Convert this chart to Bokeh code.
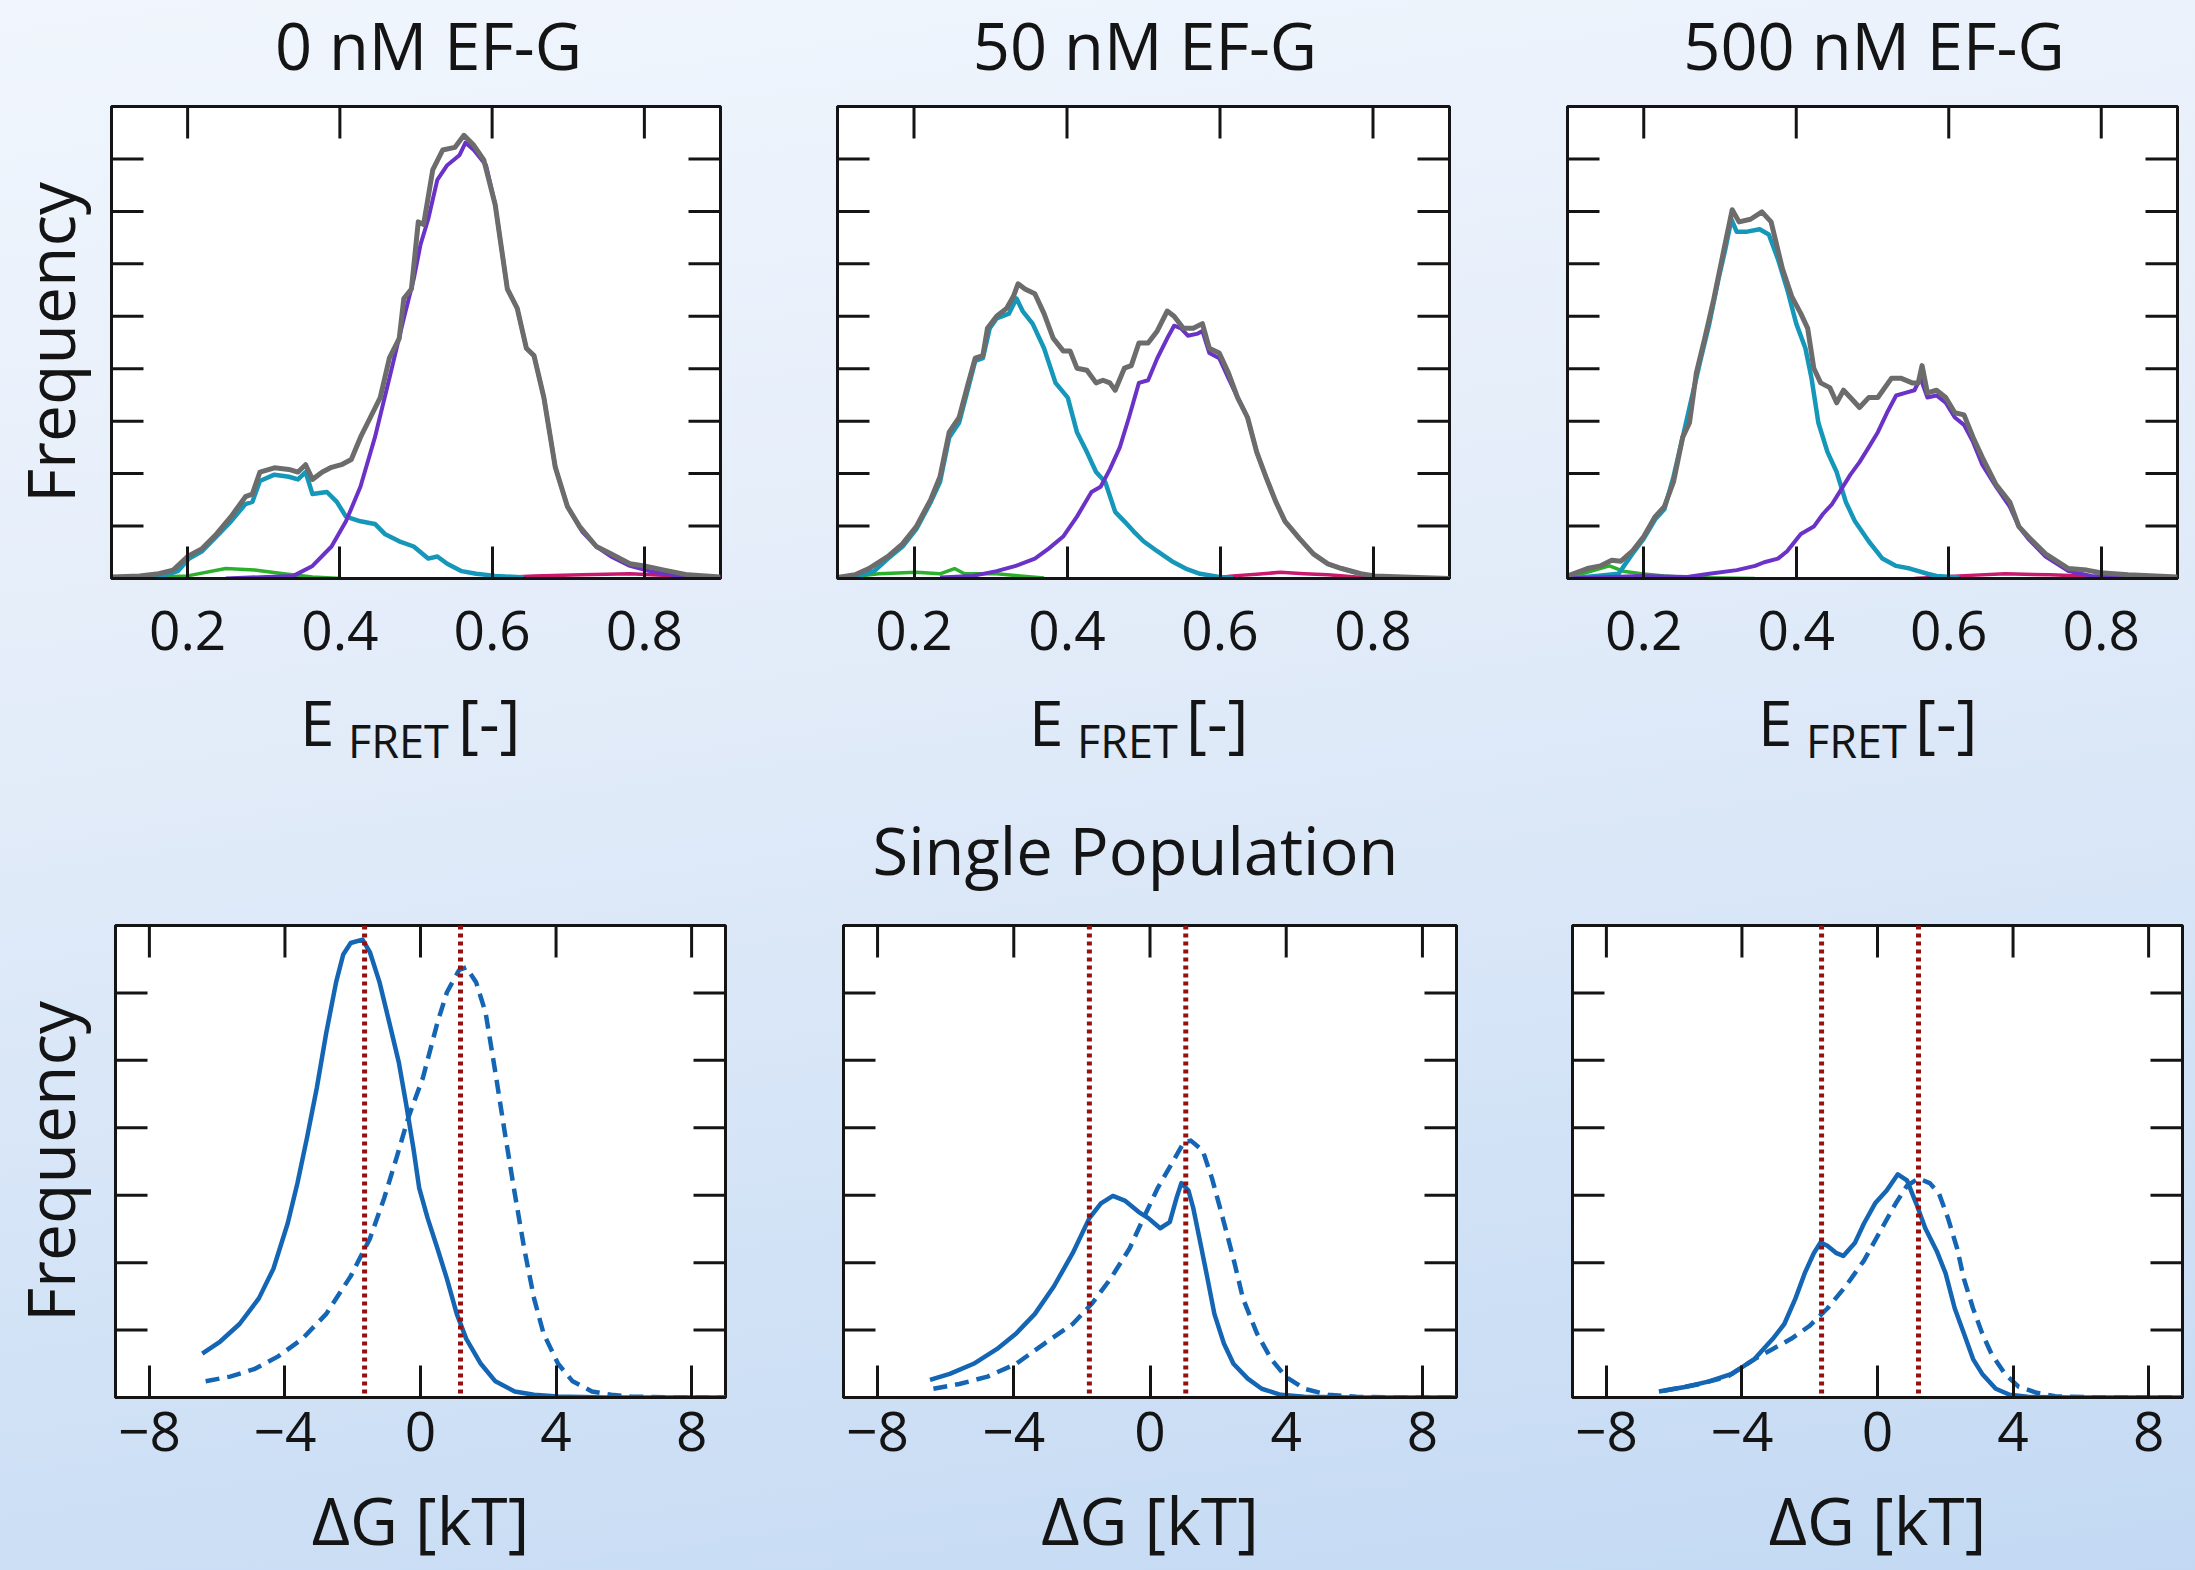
import math
from bokeh.plotting import figure
from bokeh.models import Range1d, FixedTicker, Span, Div, CustomJSTickFormatter
from bokeh.layouts import row, column
from bokeh.embed import file_html
from bokeh.resources import INLINE

FONT = "Open Sans"
INK = "#141414"
C_TOTAL = "#6c6c6c"
C_LOW = "#1597ba"
C_HIGH = "#6a32c6"
C_GREEN = "#2bb02b"
C_MAG = "#c8196e"
C_DG = "#1466b4"
C_MARK = "#951010"

TITLES_TOP = ["0 nM EF-G", "50 nM EF-G", "500 nM EF-G"]
TITLE_BOTTOM = "Single Population"
E_TICKS = [0.2, 0.4, 0.6, 0.8]
DG_TICKS = [-8, -4, 0, 4, 8]
E_YTICKS = [1, 2, 3, 4, 5, 6, 7, 8]
DG_YTICKS = [1, 2, 3, 4, 5, 6]

# ---------------- E_FRET histograms (arbitrary frequency units, 0..9) -------------
E0_TOTAL_X = [0.100,0.137,0.162,0.181,0.200,0.219,0.238,0.257,0.276,0.285,0.295,0.314,0.333,0.345,0.355,0.364,0.377,0.389,0.402,0.415,0.427,0.440,0.453,0.465,0.478,0.484,0.494,0.503,0.510,0.522,0.535,0.551,0.563,0.576,0.589,0.604,0.620,0.633,0.645,0.655,0.668,0.683,0.699,0.715,0.737,0.756,0.781,0.800,0.826,0.857,0.900]
E0_TOTAL_Y = [0.03,0.05,0.09,0.16,0.42,0.57,0.85,1.18,1.56,1.61,2.03,2.11,2.08,2.03,2.17,1.89,2.03,2.12,2.17,2.27,2.69,3.07,3.45,4.20,4.58,5.34,5.52,6.80,6.75,7.79,8.17,8.22,8.45,8.26,7.98,7.13,5.52,5.15,4.39,4.25,3.45,2.12,1.37,0.99,0.61,0.47,0.28,0.24,0.16,0.07,0.03]
E0_LOW_X = [0.130,0.168,0.187,0.202,0.219,0.238,0.257,0.276,0.285,0.295,0.314,0.333,0.345,0.355,0.364,0.383,0.396,0.408,0.427,0.446,0.459,0.478,0.497,0.516,0.528,0.541,0.560,0.579,0.604,0.642]
E0_LOW_Y = [0.0,0.05,0.14,0.38,0.52,0.80,1.09,1.42,1.46,1.86,1.98,1.94,1.89,2.03,1.61,1.65,1.46,1.18,1.09,1.04,0.85,0.71,0.61,0.38,0.42,0.28,0.14,0.09,0.05,0.02]
E0_HIGH_X = [0.250,0.339,0.364,0.389,0.408,0.427,0.446,0.465,0.484,0.497,0.506,0.516,0.528,0.541,0.557,0.565,0.576,0.592,0.604,0.620,0.633,0.645,0.655,0.668,0.683,0.699,0.718,0.737,0.756,0.781,0.807,0.845,0.900]
E0_HIGH_Y = [0.0,0.05,0.24,0.61,1.09,1.75,2.69,3.82,4.96,5.71,6.37,6.85,7.60,7.88,8.07,8.31,8.17,7.88,7.13,5.52,5.15,4.39,4.25,3.45,2.12,1.37,0.90,0.61,0.42,0.24,0.14,0.05,0.02]
E0_GREEN_X = [0.10,0.20,0.25,0.288,0.326,0.364,0.402]
E0_GREEN_Y = [0.0,0.05,0.19,0.16,0.09,0.03,0.0]
E0_MAG_X = [0.592,0.655,0.718,0.781,0.845,0.900]
E0_MAG_Y = [0.0,0.05,0.07,0.09,0.05,0.02]

E50_TOTAL_X = [0.100,0.123,0.141,0.166,0.185,0.203,0.222,0.234,0.246,0.259,0.271,0.280,0.290,0.296,0.308,0.321,0.330,0.336,0.345,0.358,0.370,0.382,0.395,0.404,0.413,0.426,0.438,0.447,0.456,0.463,0.475,0.484,0.494,0.506,0.518,0.531,0.540,0.552,0.565,0.577,0.586,0.599,0.611,0.623,0.636,0.648,0.660,0.673,0.685,0.704,0.722,0.741,0.759,0.784,0.802,0.840,0.900]
E50_TOTAL_Y = [0.02,0.07,0.19,0.42,0.66,0.99,1.51,1.94,2.79,3.07,3.73,4.20,4.25,4.77,5.00,5.15,5.38,5.62,5.52,5.43,5.05,4.58,4.34,4.34,4.01,3.97,3.73,3.78,3.73,3.59,4.01,4.06,4.49,4.49,4.72,5.10,5.00,4.77,4.77,4.86,4.39,4.30,3.92,3.45,3.07,2.41,1.94,1.46,1.09,0.76,0.47,0.28,0.19,0.09,0.05,0.03,0.0]
E50_LOW_X = [0.100,0.123,0.148,0.166,0.185,0.203,0.222,0.234,0.246,0.259,0.271,0.280,0.290,0.299,0.308,0.324,0.334,0.342,0.355,0.370,0.385,0.401,0.413,0.426,0.438,0.450,0.463,0.475,0.487,0.500,0.518,0.537,0.555,0.574,0.599,0.617]
E50_LOW_Y = [0.0,0.03,0.14,0.38,0.61,0.94,1.46,1.84,2.69,2.97,3.64,4.15,4.20,4.77,4.96,5.05,5.34,5.10,4.86,4.39,3.73,3.45,2.79,2.41,2.03,1.84,1.27,1.09,0.90,0.71,0.52,0.33,0.19,0.09,0.03,0.01]
E50_HIGH_X = [0.234,0.277,0.308,0.333,0.358,0.376,0.395,0.413,0.432,0.444,0.456,0.469,0.481,0.494,0.506,0.518,0.531,0.540,0.549,0.558,0.571,0.577,0.586,0.599,0.611,0.623,0.636,0.648,0.660,0.673,0.685,0.704,0.722,0.741,0.759,0.784,0.802,0.840,0.900]
E50_HIGH_Y = [0.02,0.05,0.14,0.24,0.38,0.57,0.80,1.18,1.65,1.75,2.08,2.50,3.07,3.73,3.78,4.20,4.58,4.82,4.77,4.63,4.67,4.72,4.30,4.20,3.82,3.45,3.07,2.41,1.94,1.46,1.09,0.76,0.47,0.28,0.19,0.09,0.03,0.01,0.0]
E50_GREEN_X = [0.100,0.154,0.203,0.234,0.253,0.266,0.308,0.339,0.370]
E50_GREEN_Y = [0.0,0.09,0.12,0.09,0.19,0.09,0.09,0.05,0.01]
E50_MAG_X = [0.586,0.617,0.648,0.679,0.710,0.741,0.778,0.802]
E50_MAG_Y = [0.0,0.05,0.08,0.12,0.09,0.07,0.03,0.0]

E500_TOTAL_X = [0.100,0.126,0.143,0.158,0.170,0.185,0.200,0.215,0.227,0.239,0.251,0.260,0.269,0.280,0.292,0.304,0.316,0.325,0.340,0.355,0.367,0.382,0.394,0.406,0.415,0.423,0.432,0.444,0.453,0.462,0.471,0.483,0.495,0.507,0.525,0.537,0.552,0.560,0.565,0.572,0.584,0.596,0.608,0.620,0.632,0.644,0.662,0.680,0.692,0.704,0.727,0.757,0.781,0.799,0.835,0.900]
E500_TOTAL_Y = [0.05,0.19,0.24,0.35,0.33,0.52,0.80,1.18,1.37,1.84,2.69,2.97,3.92,4.58,5.34,6.19,7.03,6.80,6.85,6.99,6.80,5.90,5.38,5.05,4.77,4.01,3.73,3.64,3.35,3.59,3.45,3.26,3.45,3.45,3.82,3.82,3.73,3.73,4.06,3.54,3.59,3.45,3.16,3.12,2.69,2.31,1.79,1.46,0.99,0.80,0.47,0.19,0.16,0.11,0.07,0.03]
E500_LOW_X = [0.100,0.138,0.167,0.185,0.200,0.215,0.227,0.239,0.251,0.263,0.275,0.286,0.298,0.307,0.315,0.322,0.334,0.352,0.364,0.376,0.388,0.400,0.412,0.420,0.429,0.441,0.453,0.465,0.477,0.495,0.513,0.531,0.549,0.572,0.584,0.614]
E500_LOW_Y = [0.0,0.05,0.09,0.47,0.76,1.13,1.32,1.94,2.69,3.45,4.20,4.86,5.71,6.28,6.85,6.61,6.61,6.66,6.56,6.09,5.52,4.86,4.39,3.82,2.97,2.41,2.03,1.46,1.09,0.71,0.38,0.24,0.19,0.09,0.05,0.02]
E500_HIGH_X = [0.100,0.197,0.257,0.286,0.322,0.346,0.358,0.376,0.388,0.406,0.423,0.435,0.447,0.459,0.471,0.483,0.495,0.507,0.519,0.531,0.543,0.555,0.563,0.572,0.584,0.596,0.608,0.620,0.632,0.644,0.662,0.680,0.692,0.704,0.727,0.757,0.787,0.823,0.900]
E500_HIGH_Y = [0.0,0.05,0.03,0.09,0.16,0.24,0.31,0.38,0.52,0.85,0.99,1.23,1.42,1.70,1.98,2.22,2.50,2.79,3.16,3.49,3.54,3.59,3.82,3.45,3.49,3.35,3.07,2.93,2.60,2.17,1.75,1.37,0.99,0.76,0.42,0.14,0.05,0.02,0.0]
E500_GREEN_X = [0.100,0.126,0.155,0.173,0.197,0.227,0.257,0.346]
E500_GREEN_Y = [0.02,0.12,0.24,0.14,0.09,0.05,0.02,0.0]
E500_MAG_X = [0.555,0.614,0.674,0.733,0.775,0.823]
E500_MAG_Y = [0.0,0.05,0.09,0.07,0.05,0.0]

# ---------------- Delta G distributions (arbitrary frequency units, 0..7) ----------
DG0_SOLID_X = [-6.44,-5.91,-5.34,-4.77,-4.34,-3.92,-3.63,-3.35,-3.06,-2.78,-2.49,-2.28,-2.06,-1.71,-1.49,-1.21,-0.92,-0.64,-0.43,-0.21,-0.04,0.21,0.50,0.78,1.07,1.35,1.78,2.21,2.78,3.35,4.06,5.48,9.0]
DG0_SOLID_Y = [0.65,0.83,1.09,1.47,1.91,2.58,3.18,3.85,4.59,5.41,6.16,6.57,6.74,6.79,6.60,6.16,5.56,4.97,4.37,3.70,3.11,2.66,2.21,1.76,1.24,0.87,0.50,0.24,0.09,0.04,0.015,0.0,0.0]
DG0_DASH_X = [-6.34,-5.62,-4.91,-4.20,-3.49,-2.78,-2.06,-1.49,-1.07,-0.71,-0.36,0.07,0.50,0.78,1.14,1.35,1.64,1.92,2.21,2.49,2.78,3.06,3.35,3.63,4.06,4.49,5.06,5.63,6.20,7.62,9.0]
DG0_DASH_Y = [0.24,0.31,0.42,0.61,0.87,1.24,1.80,2.36,2.96,3.55,4.15,4.74,5.56,6.01,6.34,6.38,6.16,5.71,4.82,3.92,3.03,2.21,1.47,0.95,0.50,0.24,0.09,0.04,0.015,0.0,0.0]
DG50_SOLID_X = [-6.46,-5.88,-5.18,-4.49,-3.93,-3.38,-2.82,-2.27,-1.78,-1.44,-1.09,-0.74,-0.33,-0.05,0.30,0.58,0.78,0.92,1.13,1.27,1.48,1.69,1.89,2.17,2.45,2.87,3.28,3.84,4.53,5.92,9.0]
DG50_SOLID_Y = [0.26,0.35,0.50,0.72,0.95,1.24,1.65,2.14,2.66,2.88,2.99,2.92,2.75,2.66,2.51,2.60,2.96,3.18,3.07,2.81,2.29,1.76,1.24,0.80,0.50,0.28,0.13,0.04,0.01,0.0,0.0]
DG50_DASH_X = [-6.36,-5.60,-4.77,-3.93,-3.10,-2.27,-1.71,-1.16,-0.60,-0.19,0.23,0.65,0.99,1.20,1.55,1.82,2.10,2.45,2.73,3.14,3.56,3.98,4.53,5.23,6.06,7.31,9.0]
DG50_DASH_Y = [0.13,0.20,0.31,0.50,0.80,1.09,1.39,1.76,2.21,2.66,3.11,3.48,3.78,3.81,3.66,3.25,2.73,2.06,1.47,0.95,0.57,0.31,0.13,0.04,0.01,0.0,0.0]
DG500_SOLID_X = [-6.45,-5.64,-4.97,-4.30,-3.63,-3.09,-2.75,-2.42,-2.15,-1.88,-1.68,-1.48,-1.21,-1.01,-0.67,-0.40,-0.07,0.27,0.60,0.87,1.14,1.41,1.75,2.01,2.28,2.55,2.82,3.09,3.49,3.90,4.43,5.78,9.0]
DG500_SOLID_Y = [0.09,0.16,0.24,0.35,0.57,0.87,1.09,1.47,1.84,2.14,2.30,2.25,2.14,2.10,2.29,2.58,2.88,3.07,3.31,3.22,2.88,2.51,2.17,1.84,1.32,0.95,0.57,0.35,0.13,0.04,0.01,0.0,0.0]
DG500_DASH_X = [-6.31,-5.24,-4.43,-3.96,-3.63,-3.09,-2.55,-2.01,-1.48,-0.94,-0.40,0.13,0.54,0.87,1.21,1.54,1.81,2.08,2.35,2.55,2.82,3.09,3.36,3.76,4.16,4.70,5.24,6.45,9.0]
DG500_DASH_Y = [0.10,0.20,0.31,0.46,0.57,0.72,0.87,1.06,1.32,1.65,2.03,2.51,2.88,3.14,3.25,3.18,3.03,2.66,2.21,1.76,1.32,0.95,0.65,0.35,0.16,0.07,0.02,0.0,0.0]

DG0_MARKS = [-1.65, 1.18]
DG50_MARKS = [-1.78, 1.05]
DG500_MARKS = [-1.65, 1.21]

E_RANGE = (0.1, 0.9)
E_YRANGE = (0, 9)
DG_RANGE = (-9, 9)
DG_YRANGE = (0, 7)

FRAME_H = 472
TXT = f"position:absolute;white-space:nowrap;line-height:1;font-family:'Open Sans';color:{INK};"


def style_axis(ax, ticks, formatter=None, standoff=14):
    ax.ticker = FixedTicker(ticks=ticks, minor_ticks=[])
    if formatter is not None:
        ax.formatter = formatter
    ax.major_tick_in = 32
    ax.major_tick_out = 0
    ax.minor_tick_in = 0
    ax.minor_tick_out = 0
    ax.major_tick_line_width = 3
    ax.major_tick_line_color = INK
    ax.axis_line_width = 3
    ax.axis_line_color = INK
    ax.major_label_text_font = FONT
    ax.major_label_text_color = INK
    ax.major_label_text_font_size = "55px"
    ax.major_label_standoff = standoff
    ax.axis_label_text_font = FONT
    ax.axis_label_text_font_size = "66px"
    ax.axis_label_text_font_style = "normal"
    ax.axis_label_text_color = INK


def make_panel(width, height, bl, br, bt, bb, xr, yr, xticks, yticks, ylabel, ylabel_standoff, xlabel,
               tick_standoff, xlabel_standoff, xfmt=None):
    p = figure(width=width, height=height, x_range=Range1d(*xr), y_range=Range1d(*yr),
               output_backend="svg", toolbar_location=None, title=None,
               min_border_left=bl, min_border_right=br, min_border_top=bt, min_border_bottom=bb,
               border_fill_color=None, background_fill_color="white",
               outline_line_color=INK, outline_line_width=3)
    p.xgrid.visible = False
    p.ygrid.visible = False
    bx = p.below[0]
    ly = p.left[0]
    style_axis(bx, xticks, xfmt, tick_standoff)
    style_axis(ly, [], None, 0)
    if ylabel:
        ly.axis_label = ylabel
        ly.axis_label_standoff = ylabel_standoff
    if xlabel:
        bx.axis_label = xlabel
        bx.axis_label_standoff = xlabel_standoff
    # inward ticks on the left, right and top edges (half of each dash is clipped by the frame)
    n_y = len(yticks)
    n_x = len(xticks)
    tick_kw = dict(marker="dash", size=64, line_color=INK, line_width=3)
    p.scatter([xr[0]] * n_y, yticks, **tick_kw)
    p.scatter([xr[1]] * n_y, yticks, **tick_kw)
    p.scatter(xticks, [yr[1]] * n_x, angle=math.pi / 2, **tick_kw)
    return p


def title_div(text, fig_w, frame_left, frame_w, h, top, shift):
    html = (f'<div style="position:relative;width:{fig_w}px;height:{h}px;">'
            f'<div style="{TXT}left:{frame_left + shift}px;width:{frame_w}px;top:{top}px;'
            f'text-align:center;font-size:65px;">{text}</div></div>')
    return Div(text=html, width=fig_w, height=h, margin=0)


def fret_div(fig_w, frame_left, frame_w, h):
    cx = frame_left + frame_w / 2
    html = (f'<div style="position:relative;width:{fig_w}px;height:{h}px;">'
            f'<span style="{TXT}left:{cx - 114:.0f}px;top:1px;font-size:62px;">E</span> '
            f'<span style="{TXT}left:{cx - 66:.0f}px;top:28px;font-size:45px;">FRET</span> '
            f'<span style="{TXT}left:{cx + 43:.0f}px;top:0px;font-size:64px;">[-]</span>'
            '</div>')
    return Div(text=html, width=fig_w, height=h, margin=0)


top_sets = [
    (E0_TOTAL_X, E0_TOTAL_Y, E0_LOW_X, E0_LOW_Y, E0_HIGH_X, E0_HIGH_Y, E0_GREEN_X, E0_GREEN_Y, E0_MAG_X, E0_MAG_Y),
    (E50_TOTAL_X, E50_TOTAL_Y, E50_LOW_X, E50_LOW_Y, E50_HIGH_X, E50_HIGH_Y, E50_GREEN_X, E50_GREEN_Y, E50_MAG_X, E50_MAG_Y),
    (E500_TOTAL_X, E500_TOTAL_Y, E500_LOW_X, E500_LOW_Y, E500_HIGH_X, E500_HIGH_Y, E500_GREEN_X, E500_GREEN_Y, E500_MAG_X, E500_MAG_Y),
]
# (figure width, left border, right border, title shift)
top_geom = [(778, 109, 58, 14), (730, 59, 59, 2), (687, 59, 18, 2)]
TOP_TITLE_H = 100
TOP_FIG_H = 590
TOP_DIV_H = 110

top_cols = []
for i, (geo, data) in enumerate(zip(top_geom, top_sets)):
    w, bl, br, shift = geo
    fw = w - bl - br
    p = make_panel(w, TOP_FIG_H, bl, br, 106 - TOP_TITLE_H, TOP_FIG_H - (106 - TOP_TITLE_H) - FRAME_H,
                   E_RANGE, E_YRANGE, E_TICKS, E_YTICKS,
                   "Frequency" if i == 0 else None, 18, None, 32, 0)
    tx, ty, lx, lyv, hx, hy, gx, gy, mx, my = data
    p.line(gx, gy, line_color=C_GREEN, line_width=3.5, line_join="round")
    p.line(mx, my, line_color=C_MAG, line_width=3.5, line_join="round")
    p.line(lx, lyv, line_color=C_LOW, line_width=4.5, line_join="round")
    p.line(hx, hy, line_color=C_HIGH, line_width=4, line_join="round")
    p.line(tx, ty, line_color=C_TOTAL, line_width=5, line_join="round")
    top_cols.append(column(title_div(TITLES_TOP[i], w, bl, fw, TOP_TITLE_H, 13, shift), p,
                           fret_div(w, bl, fw, TOP_DIV_H), spacing=0))

minus_fmt = "return tick < 0 ? '\u2212' + Math.abs(tick) : String(tick);"
bottom_sets = [
    (DG0_SOLID_X, DG0_SOLID_Y, DG0_DASH_X, DG0_DASH_Y, DG0_MARKS),
    (DG50_SOLID_X, DG50_SOLID_Y, DG50_DASH_X, DG50_DASH_Y, DG50_MARKS),
    (DG500_SOLID_X, DG500_SOLID_Y, DG500_DASH_X, DG500_DASH_Y, DG500_MARKS),
]
bottom_geom = [(784, 113, 59, 0), (730, 59, 58, -14), (681, 58, 13, 0)]
BOT_TITLE_H = 119
BOT_H = 770
bottom_items = []
for i, (geo, data) in enumerate(zip(bottom_geom, bottom_sets)):
    w, bl, br, shift = geo
    fw = w - bl - br
    has_title = (i == 1)
    fig_h = BOT_H - BOT_TITLE_H if has_title else BOT_H
    top_b = 125 - BOT_TITLE_H if has_title else 125
    p = make_panel(w, fig_h, bl, br, top_b, fig_h - top_b - FRAME_H, DG_RANGE, DG_YRANGE, DG_TICKS, DG_YTICKS,
                   "Frequency" if i == 0 else None, 22, "\u0394G [kT]", 14, 20,
                   CustomJSTickFormatter(code=minus_fmt))
    sx, sy, dx, dy, marks = data
    p.line(sx, sy, line_color=C_DG, line_width=4.5, line_join="round")
    p.line(dx, dy, line_color=C_DG, line_width=4.5, line_dash="14 8", line_join="round")
    for m in marks:
        p.add_layout(Span(location=m, dimension="height", line_color=C_MARK, line_width=5, line_dash="4 4"))
    if has_title:
        bottom_items.append(column(title_div(TITLE_BOTTOM, w, bl, fw, BOT_TITLE_H, 18, shift), p, spacing=0))
    else:
        bottom_items.append(p)

layout = column(row(*top_cols, spacing=0), row(*bottom_items, spacing=0), spacing=0,
                styles={"background": "linear-gradient(172deg, #f1f6fd 0%, #e3ecf9 40%, #d6e5f7 65%, #c3d9f3 100%)"})

open("out.html", "w").write(file_html(layout, INLINE))
